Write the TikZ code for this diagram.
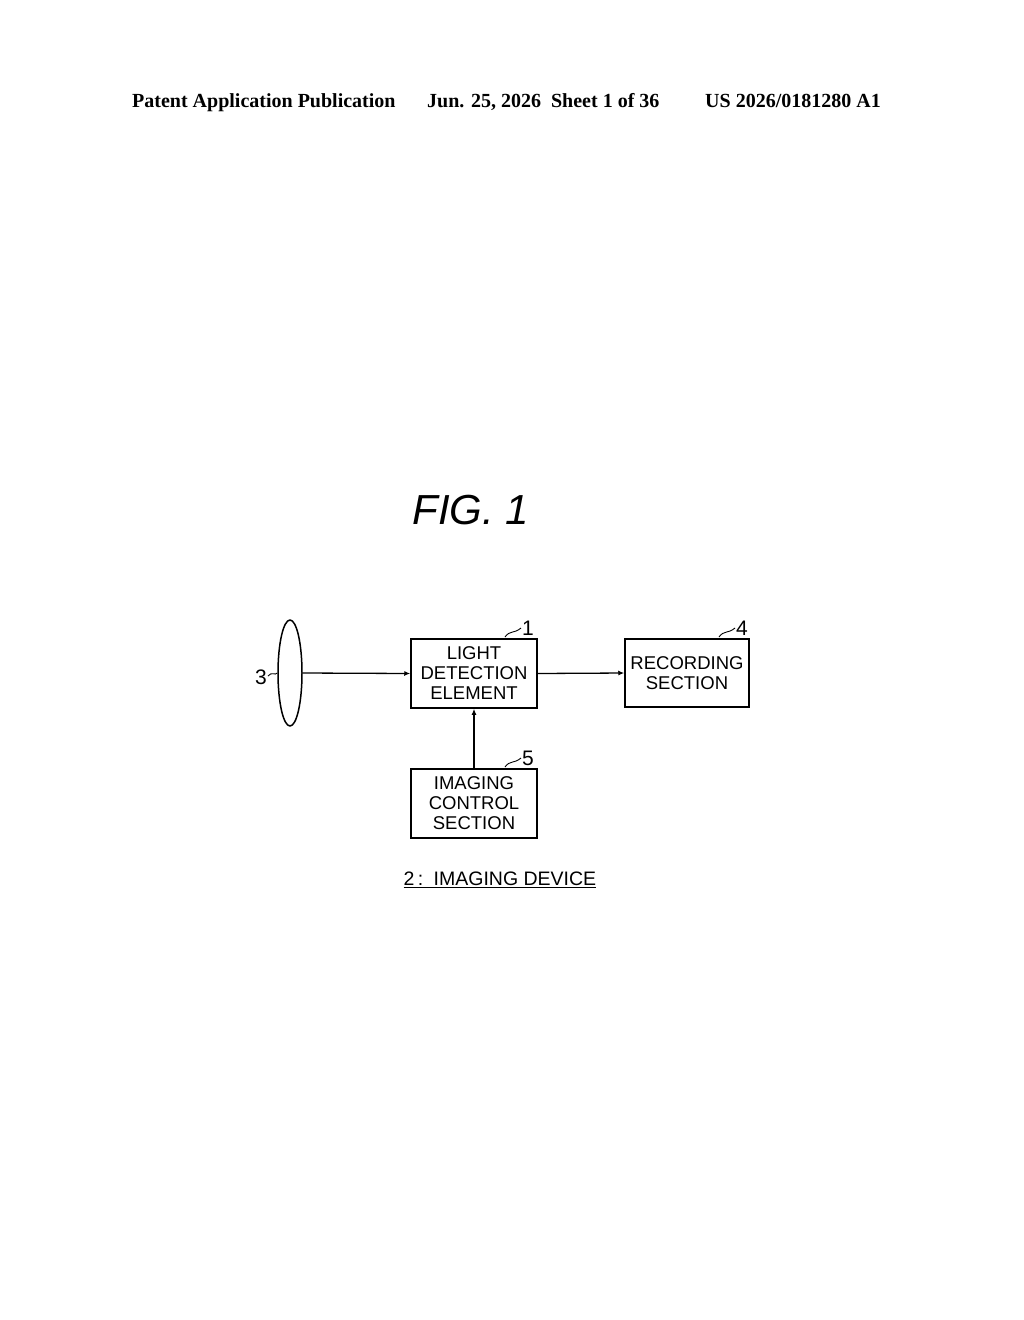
\documentclass[tikz,border=0pt]{standalone}
\usepackage{fontspec}
\setmainfont{Liberation Serif}
\setsansfont{Liberation Sans}
\usetikzlibrary{arrows.meta,shapes.geometric}
\begin{document}
\begin{tikzpicture}[x=1pt,y=-1pt,
  box/.style={draw,line width=1.5pt,minimum width=126pt,minimum height=69pt,inner sep=0pt,align=center,font=\sffamily\fontsize{18.5}{20}\selectfont},
  arr/.style={line width=1.3pt,-{Latex[length=6pt,width=5pt]}},
  num/.style={font=\sffamily\fontsize{21}{21}\selectfont,inner sep=0pt},
  hdr/.style={font=\bfseries\fontsize{20}{20}\selectfont,inner sep=0pt,anchor=base west}]
\useasboundingbox (0,0) rectangle (1024,1320);
\node[hdr] (h1) at (132,107) {Patent Application Publication};
\node[hdr] (h2) at (427,107) {Jun. 25, 2026\ \ Sheet 1 of 36};
\node[hdr] (h3) at (705,107) {US 2026/0181280 A1};
\node[font=\sffamily\itshape\fontsize{42}{44}\selectfont] (fig) at (471,510) {FIG. 1};
\node[box] (lde) at (474,673.5) {LIGHT\\DETECTION\\ELEMENT};
\node[box,minimum width=124pt,minimum height=68pt] (rec) at (687,673) {RECORDING\\SECTION};
\node[box] (ic) at (474,803.5) {IMAGING\\CONTROL\\SECTION};
\node[draw,line width=1.5pt,ellipse,minimum width=24pt,minimum height=106pt,inner sep=0pt] (lens) at (290,673) {};
\draw[arr] (lens.east) -- (lde.west);
\draw[arr] (lde.east) -- (rec.west);
\draw[arr] (ic.north) -- (lde.south);
\node[num] (n1) at (528,628) {1};
\draw[line width=0.9pt] (505,637) .. controls (510,630) and (514,634) .. (521,628);
\node[num] (n4) at (742,628) {4};
\draw[line width=0.9pt] (719,637) .. controls (724,630) and (728,634) .. (735,628);
\node[num] (n5) at (528,758) {5};
\draw[line width=0.9pt] (505,767) .. controls (510,760) and (514,764) .. (521,758);
\node[num] (n3) at (261,677) {3};
\draw[line width=0.9pt] (268,676) .. controls (272,671) and (275,676) .. (lens.west);
\node[font=\sffamily\fontsize{19.5}{20}\selectfont,inner sep=0pt] (cap) at (500,880) {\underline{2\,:\, IMAGING DEVICE}};
\end{tikzpicture}
\end{document}
